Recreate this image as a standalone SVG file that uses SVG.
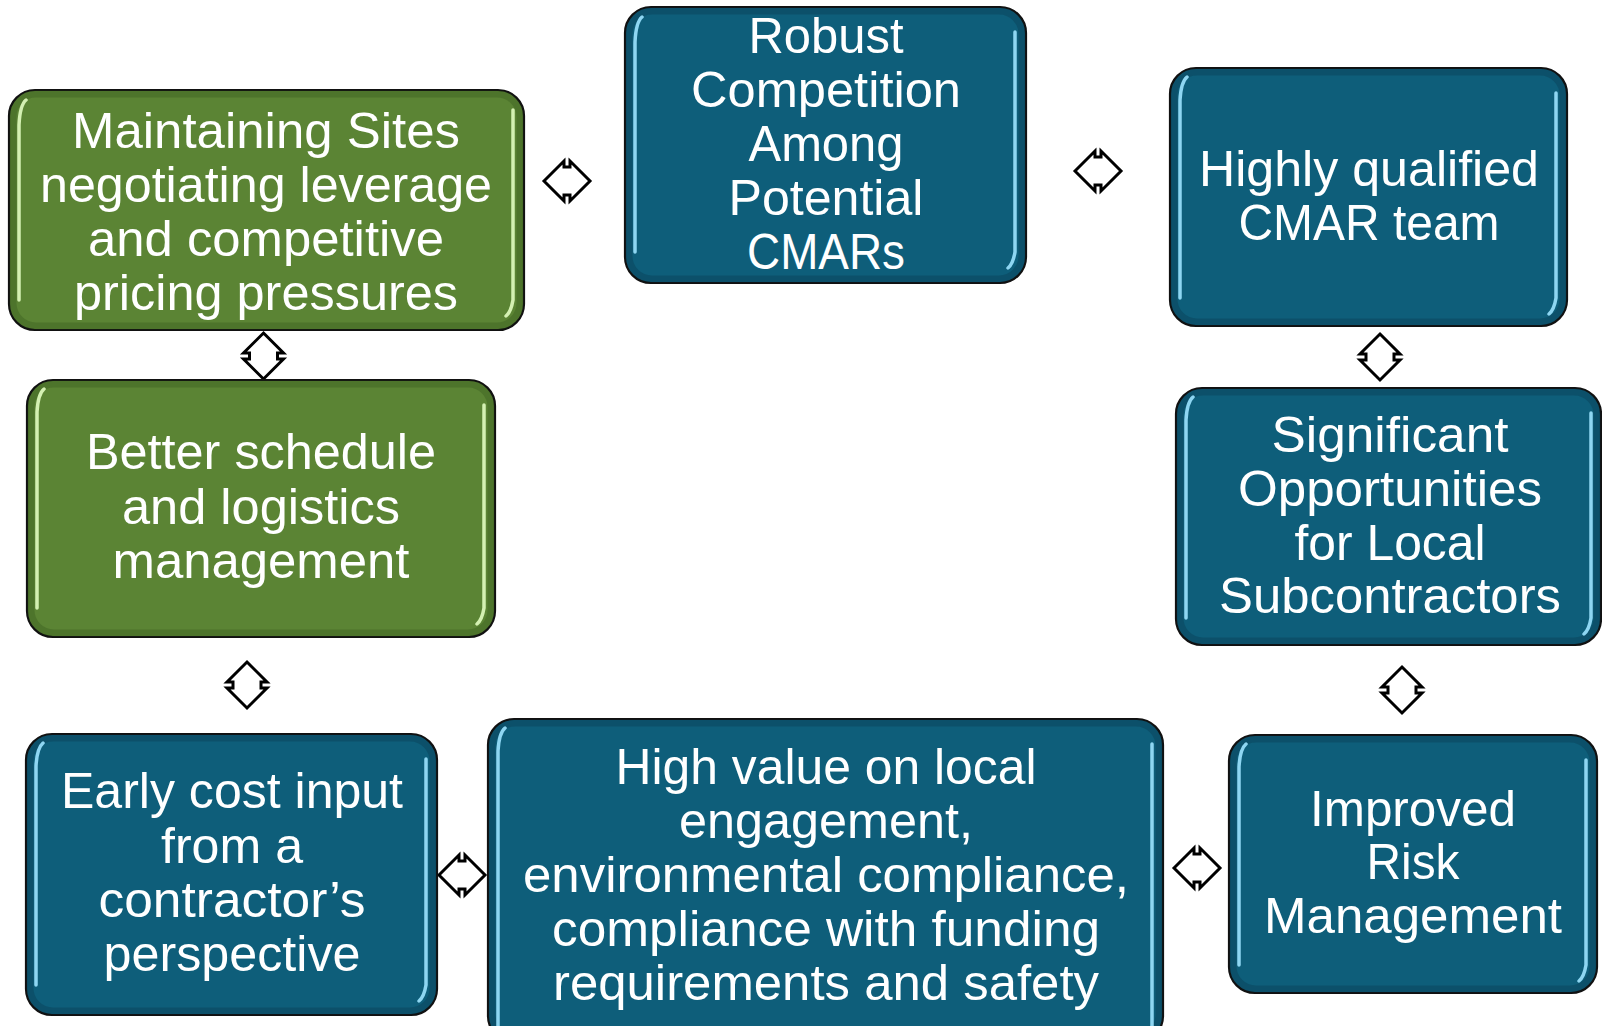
<svg xmlns="http://www.w3.org/2000/svg" width="1602" height="1026" viewBox="0 0 1602 1026">
<style>
.box{stroke:#111;stroke-width:2.2}
.blue{fill:#0E5E7A}
.green{fill:#5B8434}
.bev{fill:none;stroke-width:7;stroke-opacity:0.28}
.bevb{stroke:#062F40}
.bevg{stroke:#2C4A16}
.hlb{stroke:#8ED6F2;stroke-width:3.5;stroke-linecap:round;fill:none}
.hlg{stroke:#D4F0B2;stroke-width:3.5;stroke-linecap:round;fill:none}
text{font-family:"Liberation Sans",Arial,sans-serif;font-size:50px;fill:#fff;text-anchor:middle}
.arr{fill:#fff;stroke:#000;stroke-width:3;stroke-linejoin:miter}
</style>
<defs>
<path id="dh" d="M-23,0 L-3,-20 L-3,-14 L3,-14 L3,-20 L23,0 L3,20 L3,14 L-3,14 L-3,20 Z"/>
</defs>

<g id="connectors">
<use href="#dh" class="arr" transform="translate(567,181)"/>
<use href="#dh" class="arr" transform="translate(1098,171)"/>
<use href="#dh" class="arr" transform="translate(462,875)"/>
<use href="#dh" class="arr" transform="translate(1197,868)"/>
<use href="#dh" class="arr" transform="translate(263.5,356) rotate(90)"/>
<use href="#dh" class="arr" transform="translate(1380,357) rotate(90)"/>
<use href="#dh" class="arr" transform="translate(247,685) rotate(90)"/>
<use href="#dh" class="arr" transform="translate(1402,690) rotate(90)"/>
</g>

<g id="node-maintaining">
<rect class="box green" x="9" y="90" width="515" height="240" rx="26"/>
<rect class="bev bevg" x="13" y="94" width="507" height="232" rx="23"/>
<path class="hlg" d="M19,125 Q20,105 26,100 M19,125 L19,300 M513,110 L513,300 Q511,312 506,316"/>
<text x="266" y="148" textLength="388" lengthAdjust="spacingAndGlyphs">Maintaining Sites</text>
<text x="266" y="202" textLength="452" lengthAdjust="spacingAndGlyphs">negotiating leverage</text>
<text x="266" y="256" textLength="356" lengthAdjust="spacingAndGlyphs">and competitive</text>
<text x="266" y="310" textLength="384" lengthAdjust="spacingAndGlyphs">pricing pressures</text>
</g>

<g id="node-robust">
<rect class="box blue" x="625" y="7" width="401" height="276" rx="26"/>
<rect class="bev bevb" x="629" y="11" width="393" height="268" rx="23"/>
<path class="hlb" d="M635,42 Q636,22 642,17 M635,42 L635,252 M1015,32 L1015,252 Q1013,264 1008,268"/>
<text x="826" y="53" textLength="155" lengthAdjust="spacingAndGlyphs">Robust</text>
<text x="826" y="107" textLength="270" lengthAdjust="spacingAndGlyphs">Competition</text>
<text x="826" y="161" textLength="155" lengthAdjust="spacingAndGlyphs">Among</text>
<text x="826" y="215" textLength="195" lengthAdjust="spacingAndGlyphs">Potential</text>
<text x="826" y="269" textLength="158" lengthAdjust="spacingAndGlyphs">CMARs</text>
</g>

<g id="node-highly">
<rect class="box blue" x="1170" y="68" width="397" height="258" rx="26"/>
<rect class="bev bevb" x="1174" y="72" width="389" height="250" rx="23"/>
<path class="hlb" d="M1180,100 Q1181,82 1187,77 M1180,100 L1180,298 M1556,93 L1556,298 Q1554,310 1549,314"/>
<text x="1369" y="186" textLength="340" lengthAdjust="spacingAndGlyphs">Highly qualified</text>
<text x="1369" y="240" textLength="261" lengthAdjust="spacingAndGlyphs">CMAR team</text>
</g>

<g id="node-significant">
<rect class="box blue" x="1176" y="388" width="425" height="257" rx="26"/>
<rect class="bev bevb" x="1180" y="392" width="417" height="249" rx="23"/>
<path class="hlb" d="M1186,420 Q1187,402 1193,397 M1186,420 L1186,618 M1591,413 L1591,618 Q1589,630 1584,634"/>
<text x="1390" y="452" textLength="237" lengthAdjust="spacingAndGlyphs">Significant</text>
<text x="1390" y="506" textLength="304" lengthAdjust="spacingAndGlyphs">Opportunities</text>
<text x="1390" y="560" textLength="191" lengthAdjust="spacingAndGlyphs">for Local</text>
<text x="1390" y="613" textLength="342" lengthAdjust="spacingAndGlyphs">Subcontractors</text>
</g>

<g id="node-risk">
<rect class="box blue" x="1229" y="735" width="368" height="258" rx="26"/>
<rect class="bev bevb" x="1233" y="739" width="360" height="250" rx="23"/>
<path class="hlb" d="M1239,767 Q1240,749 1246,744 M1239,767 L1239,965 M1586,760 L1586,965 Q1584,977 1579,981"/>
<text x="1413" y="826" textLength="206" lengthAdjust="spacingAndGlyphs">Improved</text>
<text x="1413" y="879" textLength="93" lengthAdjust="spacingAndGlyphs">Risk</text>
<text x="1413" y="933" textLength="298" lengthAdjust="spacingAndGlyphs">Management</text>
</g>

<g id="node-highvalue">
<rect class="box blue" x="488" y="719" width="675" height="323" rx="26"/>
<rect class="bev bevb" x="492" y="723" width="667" height="315" rx="23"/>
<path class="hlb" d="M498,751 Q499,733 505,728 M498,751 L498,1030 M1152,744 L1152,1030"/>
<text x="826" y="784" textLength="421" lengthAdjust="spacingAndGlyphs">High value on local</text>
<text x="826" y="838" textLength="294" lengthAdjust="spacingAndGlyphs">engagement,</text>
<text x="826" y="892" textLength="606" lengthAdjust="spacingAndGlyphs">environmental compliance,</text>
<text x="826" y="946" textLength="548" lengthAdjust="spacingAndGlyphs">compliance with funding</text>
<text x="826" y="1000" textLength="546" lengthAdjust="spacingAndGlyphs">requirements and safety</text>
</g>

<g id="node-early">
<rect class="box blue" x="26" y="734" width="411" height="281" rx="26"/>
<rect class="bev bevb" x="30" y="738" width="403" height="273" rx="23"/>
<path class="hlb" d="M36,766 Q37,748 43,743 M36,766 L36,985 M426,759 L426,985 Q424,997 419,1001"/>
<text x="232" y="808" textLength="342" lengthAdjust="spacingAndGlyphs">Early cost input</text>
<text x="232" y="863" textLength="142" lengthAdjust="spacingAndGlyphs">from a</text>
<text x="232" y="917" textLength="267" lengthAdjust="spacingAndGlyphs">contractor’s</text>
<text x="232" y="971" textLength="257" lengthAdjust="spacingAndGlyphs">perspective</text>
</g>

<g id="node-better">
<rect class="box green" x="27" y="380" width="468" height="257" rx="26"/>
<rect class="bev bevg" x="31" y="384" width="460" height="249" rx="23"/>
<path class="hlg" d="M37,412 Q38,394 44,389 M37,412 L37,608 M484,405 L484,608 Q482,620 477,624"/>
<text x="261" y="469" textLength="350" lengthAdjust="spacingAndGlyphs">Better schedule</text>
<text x="261" y="524" textLength="278" lengthAdjust="spacingAndGlyphs">and logistics</text>
<text x="261" y="578" textLength="297" lengthAdjust="spacingAndGlyphs">management</text>
</g>
</svg>
